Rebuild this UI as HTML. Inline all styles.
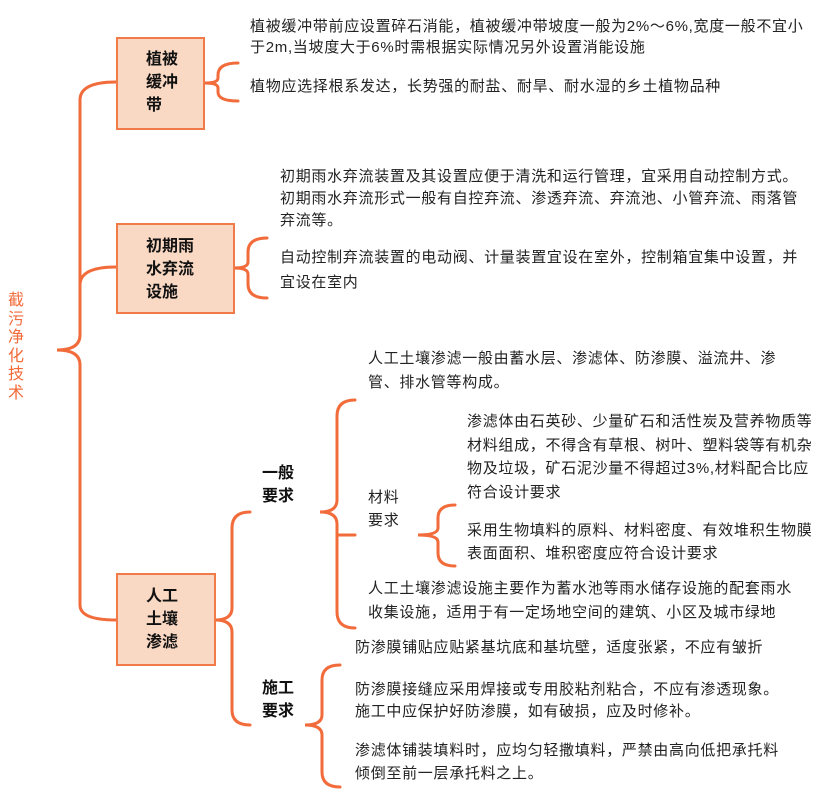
<!DOCTYPE html>
<html><head><meta charset="utf-8"><style>
body{margin:0;width:833px;height:807px;background:#fff;position:relative;overflow:hidden;font-family:"Liberation Sans","Noto Sans CJK SC",sans-serif;color:#222}
.t{position:absolute;font-size:15px;line-height:22px;white-space:nowrap;letter-spacing:0.7px}
.box{position:absolute;background:#fad9c4;border:2px solid #f07a48;box-sizing:border-box;font-weight:bold;font-size:16px;line-height:23px;color:#111}
.b{position:absolute;font-weight:bold;font-size:16px;line-height:23px;color:#111}
</style></head><body>
<svg width="833" height="807" style="position:absolute;left:0;top:0" fill="none" stroke="#f26b3a" stroke-width="3" stroke-linecap="round">
<path d="M116 82 Q80 82 80 100 L80 335 Q80 350 57 350 Q80 350 80 365 L80 605 Q80 620 116 620"/>
<path d="M116 267 Q80 267 80 285"/>
<path d="M238 63 Q218 63 218 75 L218 78 Q218 83 205 83 Q218 83 218 88 L218 92 Q218 101 238 101"/>
<path d="M267 238 Q248 238 248 252 L248 262 Q248 268 234 268 Q248 268 248 274 L248 284 Q248 298 267 298"/>
<path d="M250 512 Q232 512 232 528 L232 608 Q232 620 215 620 Q232 620 232 632 L232 710 Q232 725 250 725"/>
<path d="M355 400 Q337 400 337 416 L337 500 Q337 512 320 512 Q337 512 337 524 L337 612 Q337 628 355 628"/>
<path d="M337 535 L355 535"/>
<path d="M455 505 Q438 505 438 518 L438 528 Q438 535 418 535 Q438 535 438 542 L438 553 Q438 566 455 566"/>
<path d="M340 665 Q322 665 322 680 L322 715 Q322 725 305 725 Q322 725 322 735 L322 772 Q322 787 340 787"/>
</svg>
<div style="position:absolute;left:8px;top:292px;width:18px;font-size:16px;line-height:18.5px;color:#f26b3a">截<br>污<br>净<br>化<br>技<br>术</div>
<div class="box" style="left:116px;top:37px;width:89px;height:93px;padding:9px 0 0 28px">植被<br>缓冲<br>带</div>
<div class="box" style="left:116px;top:223px;width:119px;height:91px;padding:10px 0 0 28px">初期雨<br>水弃流<br>设施</div>
<div class="box" style="left:116px;top:573px;width:100px;height:93px;padding:10px 0 0 28px">人工<br>土壤<br>渗滤</div>
<div class="b" style="left:262px;top:462px">一般<br>要求</div>
<div class="b" style="left:262px;top:677px">施工<br>要求</div>
<div class="t" style="left:250px;top:16px">植被缓冲带前应设置碎石消能，植被缓冲带坡度一般为2%～6%,宽度一般不宜小</div>
<div class="t" style="left:250px;top:37px">于2m,当坡度大于6%时需根据实际情况另外设置消能设施</div>
<div class="t" style="left:250px;top:76px">植物应选择根系发达，长势强的耐盐、耐旱、耐水湿的乡土植物品种</div>
<div class="t" style="left:280px;top:166px">初期雨水弃流装置及其设置应便于清洗和运行管理，宜采用自动控制方式。<br>初期雨水弃流形式一般有自控弃流、渗透弃流、弃流池、小管弃流、雨落管<br>弃流等。</div>
<div class="t" style="left:280px;top:245px;line-height:25px">自动控制弃流装置的电动阀、计量装置宜设在室外，控制箱宜集中设置，并<br>宜设在室内</div>
<div class="t" style="left:368px;top:347px;line-height:24px">人工土壤渗滤一般由蓄水层、渗滤体、防渗膜、溢流井、渗<br>管、排水管等构成。</div>
<div class="t" style="left:368px;top:486px;line-height:23px">材料<br>要求</div>
<div class="t" style="left:467px;top:410px;line-height:23.5px">渗滤体由石英砂、少量矿石和活性炭及营养物质等<br>材料组成，不得含有草根、树叶、塑料袋等有机杂<br>物及垃圾，矿石泥沙量不得超过3%,材料配合比应<br>符合设计要求</div>
<div class="t" style="left:467px;top:519px;line-height:23px">采用生物填料的原料、材料密度、有效堆积生物膜<br>表面面积、堆积密度应符合设计要求</div>
<div class="t" style="left:368px;top:577px;line-height:24px">人工土壤渗滤设施主要作为蓄水池等雨水储存设施的配套雨水<br>收集设施，适用于有一定场地空间的建筑、小区及城市绿地</div>
<div class="t" style="left:355px;top:637px">防渗膜铺贴应贴紧基坑底和基坑壁，适度张紧，不应有皱折</div>
<div class="t" style="left:355px;top:679px">防渗膜接缝应采用焊接或专用胶粘剂粘合，不应有渗透现象。<br>施工中应保护好防渗膜，如有破损，应及时修补。</div>
<div class="t" style="left:355px;top:739px;line-height:23px">渗滤体铺装填料时，应均匀轻撒填料，严禁由高向低把承托料<br>倾倒至前一层承托料之上。</div>
</body></html>
